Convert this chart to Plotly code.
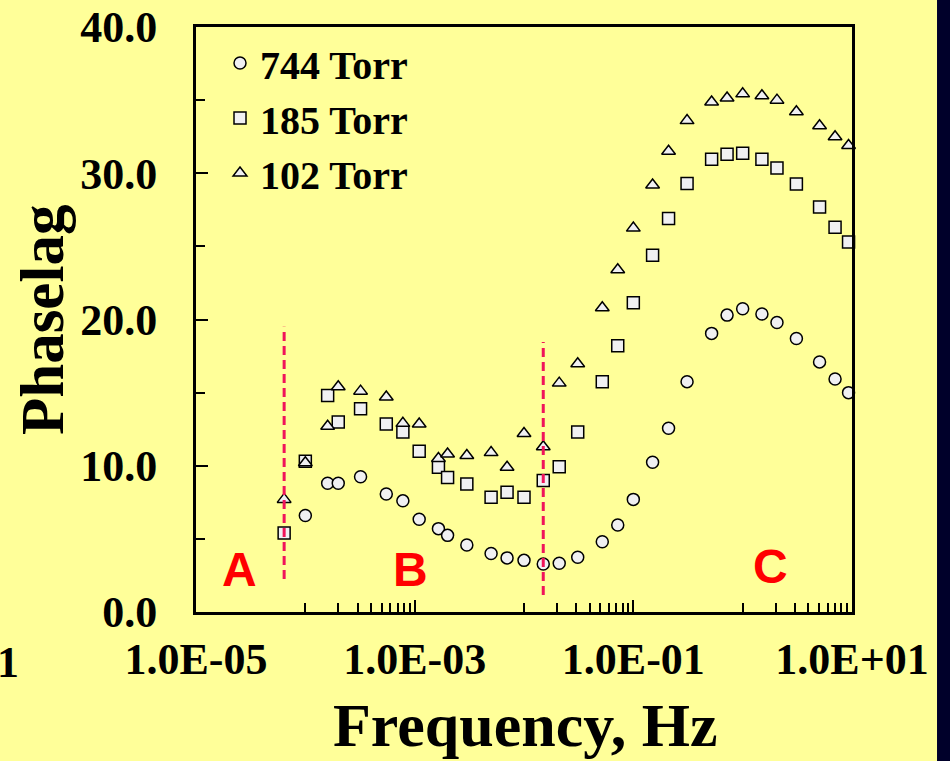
import plotly.graph_objects as go

# Measurement frequencies (Hz) shared by the three pressure series
freq_hz = [6.4e-5, 1.0e-4, 1.6e-4, 2.0e-4, 3.2e-4, 5.5e-4, 7.8e-4, 1.1e-3,
           1.65e-3, 2.0e-3, 3.0e-3, 5.0e-3, 7.0e-3, 1.0e-2, 1.5e-2, 2.1e-2,
           3.1e-2, 5.2e-2, 7.2e-2, 0.10, 0.15, 0.21, 0.31, 0.52, 0.72, 1.0,
           1.5, 2.06, 3.1, 5.05, 7.0, 9.3]

# Phase lag (degrees) for each pressure
phase_744 = [None, 6.6, 8.8, 8.8, 9.25, 8.07, 7.6, 6.34, 5.7, 5.24, 4.58, 4.0,
             3.7, 3.53, 3.28, 3.33, 3.74, 4.8, 5.95, 7.7, 10.24, 12.56, 15.75,
             19.05, 20.3, 20.74, 20.38, 19.8, 18.7, 17.1, 15.93, 15.0]
phase_185 = [5.4, 10.3, 14.8, 13.0, 13.9, 12.85, 12.3, 11.0, 9.9, 9.2, 8.75,
             7.84, 8.18, 7.84, 9.0, 9.93, 12.3, 15.75, 18.2, 21.15, 24.4, 26.9,
             29.3, 30.95, 31.3, 31.36, 30.95, 30.36, 29.27, 27.7, 26.3, 25.3]
phase_102 = [7.7, 10.2, 12.7, 15.4, 15.1, 14.7, 12.9, 12.85, 10.5, 10.8, 10.7,
             10.9, 9.9, 12.2, 11.3, 15.65, 16.97, 20.8, 23.4, 26.25, 29.2, 31.5,
             33.6, 34.87, 35.14, 35.43, 35.3, 35.0, 34.2, 33.25, 32.5, 31.9]

series_names = ["744 Torr", "185 Torr", "102 Torr"]
series_symbols = ["circle", "square", "triangle-up"]

# Regime boundaries (A | B | C)
boundary_freq = [6.4e-5, 1.5e-2]
boundary_low = [2.25, 1.16]
boundary_high = [19.5, 18.46]

regime_labels = ["A", "B", "C"]
regime_log_x = [-4.6, -3.04, 0.25]
regime_y = [2.9, 2.9, 3.1]

x_tick_vals = [1e-5, 1e-3, 1e-1, 1e1]
x_tick_text = ["1.0E-05", "1.0E-03", "1.0E-01", "1.0E+01"]
x_minor_vals = [m * 10.0 ** e for e in (-4, -2, 0) for m in range(1, 10)]
y_tick_vals = [0, 10, 20, 30, 40]
y_minor_vals = [5, 15, 25, 35]

SERIF = "Liberation Serif, Times New Roman, serif"
SANS = "Liberation Sans, Arial, sans-serif"
BG = "#FFFF99"

fig = go.Figure()

for name, vals, sym in zip(series_names, [phase_744, phase_185, phase_102], series_symbols):
    fig.add_trace(go.Scatter(
        x=freq_hz, y=vals, mode="markers", name=name,
        marker=dict(symbol=sym, size=12, color="#F0F0F2",
                    line=dict(color="black", width=1.5)),
        cliponaxis=False,
    ))

for fx, y0, y1 in zip(boundary_freq, boundary_low, boundary_high):
    fig.add_trace(go.Scatter(
        x=[fx, fx], y=[y0, y1], mode="lines", showlegend=False, hoverinfo="skip",
        line=dict(color="#F0145A", width=3, dash="9px,5px"),
    ))

axis_common = dict(
    showline=True, linecolor="black", linewidth=3, mirror=True,
    ticks="inside", ticklen=12, tickwidth=2, tickcolor="black",
    showgrid=False, zeroline=False, automargin=False,
    tickfont=dict(family=SERIF, size=44, color="black", weight="bold"),
)

fig.update_layout(
    width=950, height=761,
    margin=dict(l=196, r=98, t=27, b=149, autoexpand=False),
    paper_bgcolor=BG, plot_bgcolor=BG,
    showlegend=True,
    legend=dict(x=0.0366, y=0.994, xanchor="left", yanchor="top",
                bgcolor="rgba(0,0,0,0)",
                font=dict(family=SERIF, size=40, color="black", weight="bold")),
    xaxis=dict(type="log", range=[-5, 1], tickmode="array",
               tickvals=x_tick_vals, ticktext=x_tick_text,
               ticklabelstandoff=6,
               minor=dict(tickmode="array", tickvals=x_minor_vals, ticks="inside",
                          ticklen=9, tickwidth=2, tickcolor="black", showgrid=False),
               **axis_common),
    yaxis=dict(range=[0, 40], tickmode="array", tickvals=y_tick_vals,
               tickformat=".1f", ticklabelstandoff=27,
               minor=dict(tickmode="array", tickvals=y_minor_vals, ticks="inside",
                          ticklen=9, tickwidth=2, tickcolor="black", showgrid=False),
               **axis_common),
)

# Axis titles
fig.add_annotation(text="Phaselag", xref="paper", yref="paper", x=-0.2348, y=0.499,
                   textangle=-90, showarrow=False, xanchor="center", yanchor="middle",
                   font=dict(family=SERIF, size=61, color="black", weight="bold"))
fig.add_annotation(text="Frequency, Hz", xref="paper", yref="paper", x=0.503, y=-0.193,
                   showarrow=False, xanchor="center", yanchor="middle",
                   font=dict(family=SERIF, size=62, color="black", weight="bold"))

# Regime labels
for lab, lx, ly in zip(regime_labels, regime_log_x, regime_y):
    fig.add_annotation(text=lab, x=lx, y=ly, xref="x", yref="y", showarrow=False,
                       xanchor="center", yanchor="middle",
                       font=dict(family=SANS, size=48, color="#FF0000", weight="bold"))

# Partial label at the slide's left edge
fig.add_annotation(text="1", xref="paper", yref="paper", x=-0.2866, y=-0.0855,
                   showarrow=False, xanchor="center", yanchor="middle",
                   font=dict(family=SERIF, size=44, color="black", weight="bold"))

# Dark slide border on the right
fig.add_shape(type="rect", xref="paper", yref="paper", x0=1.1296, x1=1.3, y0=-0.4, y1=1.2,
              fillcolor="#00002A", line=dict(width=0), layer="above")

fig.write_html("out.html")
